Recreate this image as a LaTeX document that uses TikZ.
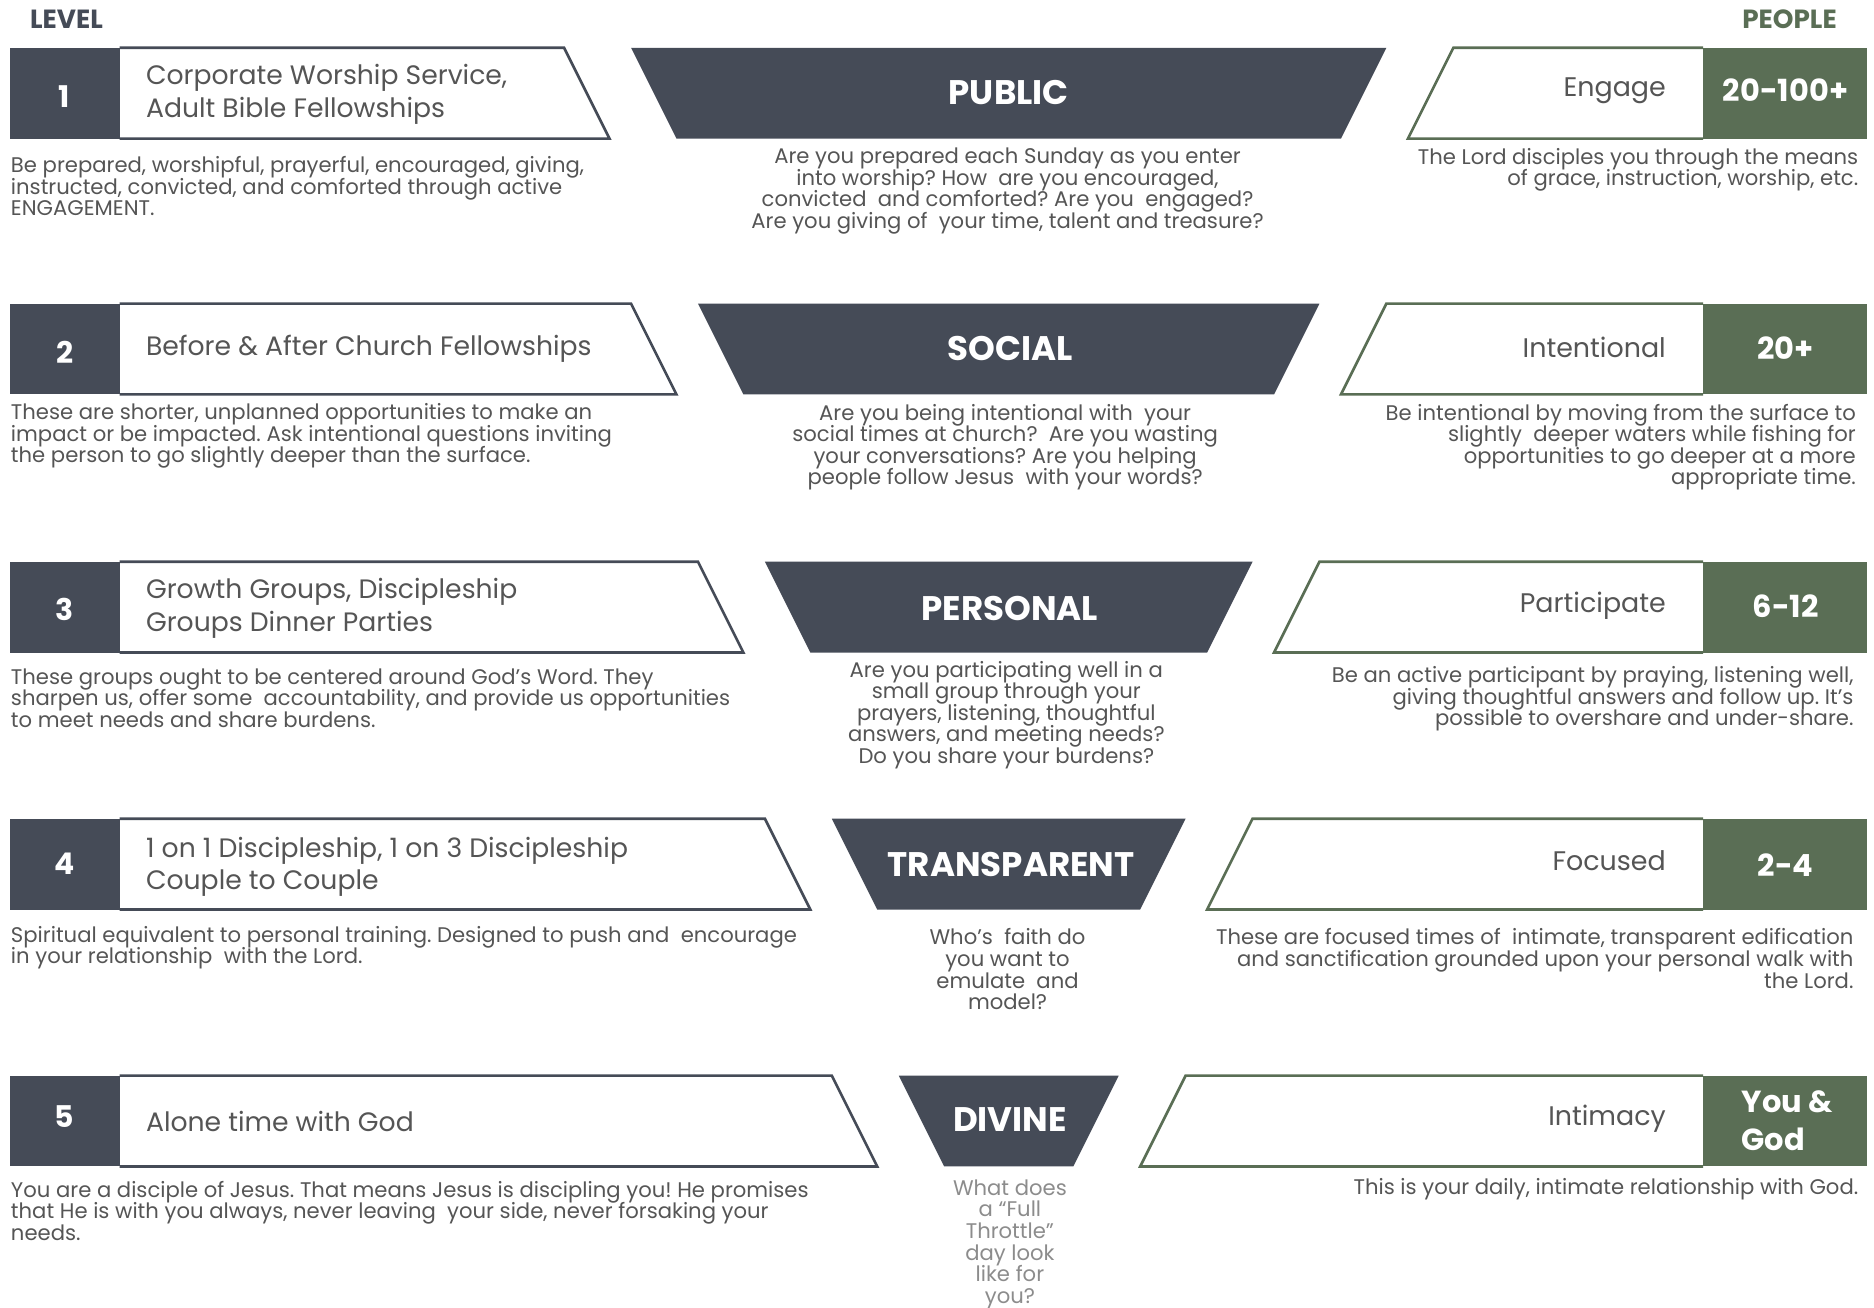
\documentclass[tikz,border=0pt]{standalone}
\usepackage{fontspec}
\setmainfont{Poppins}
\definecolor{slate}{HTML}{454B57}
\definecolor{sage}{HTML}{5A6E55}
\definecolor{txt}{HTML}{555555}
\definecolor{txtlight}{HTML}{8C8C8C}
\tikzset{
  numlabel/.style={font=\bfseries\fontsize{25}{30}\selectfont, text=white, inner sep=0},
  lvltext/.style={font=\fontsize{22.3}{27}\selectfont, text=txt, anchor=west, align=left, inner sep=0},
  headtext/.style={font=\bfseries\fontsize{28.5}{32}\selectfont, text=white, inner sep=0},
  peopletext/.style={font=\fontsize{22.5}{27}\selectfont, text=txt, anchor=east, inner sep=0},
  countlabel/.style={font=\bfseries\fontsize{25.5}{32}\selectfont, text=white, inner sep=0},
  leftdesc/.style={font=\fontsize{17.7}{18}\selectfont, text=txt, anchor=west, align=left, inner sep=0},
  centerdesc/.style={font=\fontsize{17.7}{18}\selectfont, text=txt, anchor=center, align=center, inner sep=0},
  rightdesc/.style={font=\fontsize{17.7}{18}\selectfont, text=txt, anchor=east, align=right, inner sep=0},
  colhead/.style={font=\bfseries\fontsize{22}{24}\selectfont, inner sep=0}
}
\begin{document}
\frenchspacing
\lineskiplimit=-20pt
\begin{tikzpicture}[x=1pt,y=-1pt]
\useasboundingbox (0,0) rectangle (1568,1094.4);

\foreach \i/\yt in {0/40,1/254,2/470,3/685,4/900}{
  \pgfmathsetmacro\yb{\yt+76}
  \pgfmathsetmacro\cxl{528+56*\i}
  \pgfmathsetmacro\cxr{1160-56*\i}
  \fill[slate] (\cxl,\yt) -- (\cxr,\yt) -- ({\cxr-38},\yb) -- ({\cxl+38},\yb) -- cycle;
  \draw[slate, line width=2.2pt, fill=white, line join=miter] (100,\yt) -- ({\cxl-56},\yt) -- ({\cxl-18},\yb) -- (100,\yb);
  \fill[slate] (8,\yt) rectangle (100,\yb);
  \draw[sage, line width=2.2pt, fill=white, line join=miter] (1425,\yt) -- ({\cxr+56},\yt) -- ({\cxr+18},\yb) -- (1425,\yb);
  \fill[sage] (1425,\yt) rectangle (1562,\yb);
}

% column heads
\node[colhead, text=slate, anchor=west] (level) at (25,16) {LEVEL};
\node[colhead, text=sage, anchor=east] (people) at (1537,16) {PEOPLE};

% Row 1
\node[numlabel] (n1) at (54,81) {1};
\node[lvltext] (l1) at (122,79) {Corporate Worship Service,\\Adult Bible Fellowships};
\node[headtext] (h1) at (844,77) {PUBLIC};
\node[leftdesc] (ld1) at (9,156) {Be prepared, worshipful, prayerful, encouraged, giving,\\instructed, convicted, and comforted through active\\ENGAGEMENT.};
\node[centerdesc] (cd1) at (843,160) {Are you prepared each Sunday as you enter\\into worship? How\ \ are you encouraged,\\convicted\ \ and comforted? Are you\ \ engaged?\\Are you giving of\ \ your time, talent and treasure?};
\node[peopletext] (p1) at (1394,76) {Engage};
\node[countlabel] (c1) at (1494,75) {20-100+};
\node[rightdesc] (rd1) at (1555,142) {The Lord disciples you through the means\\of grace, instruction, worship, etc.};

% Row 2
\node[numlabel] (n2) at (54,295) {2};
\node[lvltext] (l2) at (122,292) {Before \& After Church Fellowships};
\node[headtext] (h2) at (845,292) {SOCIAL};
\node[leftdesc] (ld2) at (9,365) {These are shorter, unplanned opportunities to make an\\impact or be impacted. Ask intentional questions inviting\\the person to go slightly deeper than the surface.};
\node[centerdesc] (cd2) at (841,374) {Are you being intentional with\ \ your\\social times at church?\ \ Are you wasting\\your conversations? Are you helping\\people follow Jesus\ \ with your words?};
\node[peopletext] (p2) at (1394,291) {Intentional};
\node[countlabel] (c2) at (1494,291) {20+};
\node[rightdesc] (rd2) at (1553,374) {Be intentional by moving from the surface to\\slightly\ \ deeper waters while fishing for\\opportunities to go deeper at a more\\appropriate time.};

% Row 3
\node[numlabel] (n3) at (54,510) {3};
\node[lvltext] (l3) at (122,509) {Growth Groups, Discipleship\\Groups Dinner Parties};
\node[headtext] (h3) at (845,509) {PERSONAL};
\node[leftdesc] (ld3) at (9,584) {These groups ought to be centered around God’s Word. They\\sharpen us, offer some\ \ accountability, and provide us opportunities\\to meet needs and share burdens.};
\node[centerdesc] (cd3) at (842,598) {Are you participating well in a\\small group through your\\prayers, listening, thoughtful\\answers, and meeting needs?\\Do you share your burdens?};
\node[peopletext] (p3) at (1394,507) {Participate};
\node[countlabel] (c3) at (1494,507) {6-12};
\node[rightdesc] (rd3) at (1551,585) {Be an active participant by praying, listening well,\\giving thoughtful answers and follow up. It’s\\possible to overshare and under-share.};

% Row 4
\node[numlabel] (n4) at (54,723) {4};
\node[lvltext] (l4) at (122,725) {1 on 1 Discipleship, 1 on 3 Discipleship\\Couple to Couple};
\node[headtext] (h4) at (846,723) {TRANSPARENT};
\node[leftdesc] (ld4) at (9,793) {Spiritual equivalent to personal training. Designed to push and\ \ encourage\\in your relationship\ \ with the Lord.};
\node[centerdesc] (cd4) at (843,811) {Who’s\ \ faith do\\you want to\\emulate\ \ and\\model?};
\node[peopletext] (p4) at (1394,720) {Focused};
\node[countlabel] (c4) at (1494,724) {2-4};
\node[rightdesc] (rd4) at (1551,802) {These are focused times of\ \ intimate, transparent edification\\and sanctification grounded upon your personal walk with\\the Lord.};

% Row 5
\node[numlabel] (n5) at (54,934) {5};
\node[lvltext] (l5) at (122,938) {Alone time with God};
\node[headtext] (h5) at (845,937) {DIVINE};
\node[leftdesc] (ld5) at (9,1013) {You are a disciple of Jesus. That means Jesus is discipling you! He promises\\that He is with you always, never leaving\ \ your side, never forsaking your\\needs.};
\node[centerdesc, text=txtlight] (cd5) at (845,1041) {What does\\a “Full\\Throttle”\\day look\\like for\\you?};
\node[peopletext] (p5) at (1394,936) {Intimacy};
\node[countlabel, anchor=west, align=left] (c5) at (1457,938) {You \&\\God};
\node[rightdesc] (rd5) at (1555,995) {This is your daily, intimate relationship with God.};
\end{tikzpicture}
\end{document}
